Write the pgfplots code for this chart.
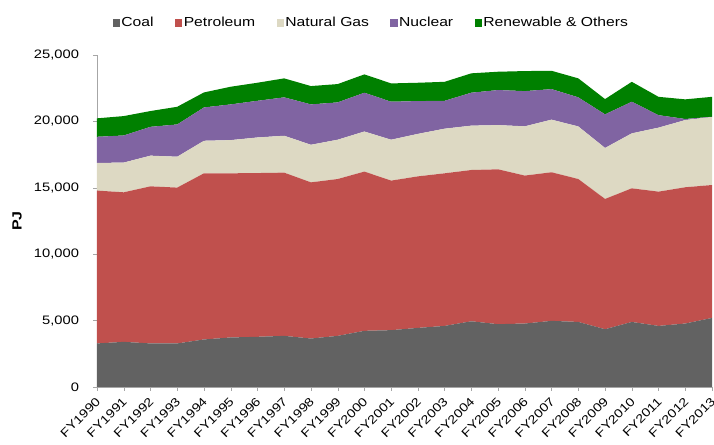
\documentclass[border=0pt]{standalone}
\usepackage{pgfplots}
\usepackage{pgfplotstable}
\usepackage{fontspec}
\pgfplotsset{compat=1.18}
\setmainfont{Liberation Sans}[FakeStretch=1.2]
\definecolor{coal}{HTML}{626262}
\definecolor{petro}{HTML}{C0504D}
\definecolor{gas}{HTML}{DDD9C3}
\definecolor{nuc}{HTML}{8064A2}
\definecolor{ren}{HTML}{008000}
\pgfplotstableread{
x coal pet gas nuc ren
0 3280 11510 2080 1970 1390
1 3400 11260 2240 2040 1460
2 3280 11830 2310 2170 1190
3 3280 11735 2325 2430 1330
4 3580 12510 2450 2510 1130
5 3730 12360 2500 2690 1330
6 3780 12330 2680 2760 1360
7 3850 12290 2780 2890 1430
8 3650 11760 2830 3040 1380
9 3850 11810 2960 2810 1380
10 4230 11990 3020 2920 1380
11 4280 11260 3080 2860 1380
12 4450 11410 3200 2470 1380
13 4600 11490 3360 2100 1430
14 4950 11390 3340 2480 1460
15 4730 11660 3330 2640 1380
16 4780 11140 3710 2650 1510
17 4980 11190 3960 2300 1380
18 4900 10760 3960 2190 1430
19 4350 9810 3840 2530 1150
20 4900 10060 4140 2380 1500
21 4600 10110 4820 940 1380
22 4780 10260 5060 80 1480
23 5200 10010 5120 20 1500
}\datatable
\begin{document}
\begin{tikzpicture}
\useasboundingbox (-72.75pt,-43.5pt) rectangle (462.75pt,290.25pt);
\begin{axis}[
  at={(0,0)}, anchor=south west,
  scale only axis, width=461.25pt, height=249pt,
  xmin=0, xmax=23, ymin=0, ymax=25000,
  stack plots=y,
  axis x line=bottom, axis y line=left,
  axis line style={-, draw=gray!70},
  tick align=outside, tick pos=left,
  major tick length=3pt,
  tick style={draw=gray!70},
  xtick={0,...,23},
  xticklabels={FY1990,FY1991,FY1992,FY1993,FY1994,FY1995,FY1996,FY1997,FY1998,FY1999,FY2000,FY2001,FY2002,FY2003,FY2004,FY2005,FY2006,FY2007,FY2008,FY2009,FY2010,FY2011,FY2012,FY2013},
  xticklabel style={xshift=-1.5pt, yshift=-2.5pt, rotate=45, anchor=north east, inner sep=1pt, font=\fontsize{9pt}{10pt}\selectfont},
  ytick={0,5000,10000,15000,20000,25000},
  scaled y ticks=false,
  yticklabel style={font=\fontsize{9.2pt}{10pt}\selectfont, xshift=-7pt},
  /pgf/number format/assume math mode=true,
  /pgf/number format/1000 sep={,},
  ylabel={\textbf{PJ}},
  ylabel style={font=\fontsize{9.5pt}{10pt}\selectfont},
  every axis y label/.style={at={(rel axis cs:0,0.5)}, xshift=-60pt, rotate=90, anchor=center},
  legend columns=5,
  legend style={at={(0.4455,1.096)}, anchor=center, draw=none, fill=none,
    font=\fontsize{9.8pt}{10pt}\selectfont, column sep=0pt,
    /tikz/every even column/.append style={column sep=15pt}},
  legend image code/.code={\fill[#1] (0pt,-2.8pt) rectangle (5.6pt,2.8pt);},
  legend cell align=left,
]
\addplot[fill=coal, draw=none] table[x=x, y=coal] {\datatable} \closedcycle;
\addlegendentry[inner xsep=1pt]{Coal}
\addplot[fill=petro, draw=none] table[x=x, y=pet] {\datatable} \closedcycle;
\addlegendentry[inner xsep=1pt]{Petroleum}
\addplot[fill=gas, draw=none] table[x=x, y=gas] {\datatable} \closedcycle;
\addlegendentry[inner xsep=1pt]{Natural Gas}
\addplot[fill=nuc, draw=none] table[x=x, y=nuc] {\datatable} \closedcycle;
\addlegendentry[inner xsep=1pt]{Nuclear}
\addplot[fill=ren, draw=none] table[x=x, y=ren] {\datatable} \closedcycle;
\addlegendentry[inner xsep=1pt]{Renewable \& Others}
\end{axis}
\end{tikzpicture}
\end{document}
